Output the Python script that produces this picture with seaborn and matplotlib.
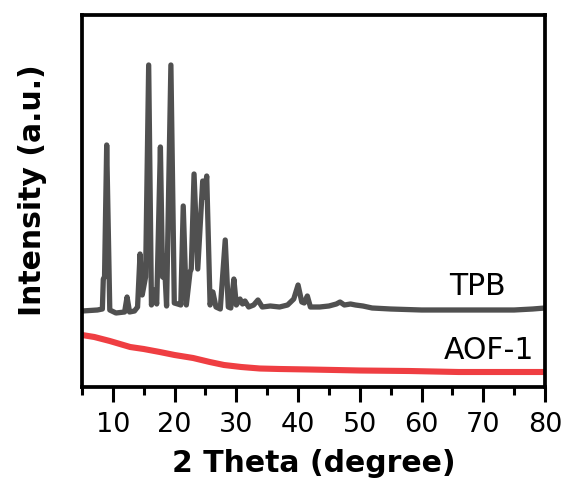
import matplotlib
matplotlib.use("Agg")
import matplotlib.pyplot as plt
import pandas as pd
import seaborn as sns
from matplotlib.ticker import MultipleLocator

# TPB powder pattern: 2θ (degree) and intensity (a.u., stacked above AOF-1)
tpb_theta = [5.0, 7.5, 8.3, 8.45, 8.65, 9.0, 9.5, 10.5, 11.9, 12.3, 12.7,
             13.5, 14.0, 14.4, 14.75, 15.3, 15.8, 16.25, 16.6, 16.75, 17.1,
             17.7, 18.05, 18.3, 18.7, 19.4, 19.95, 20.5, 21.0, 21.4, 21.9,
             22.5, 22.7, 23.15, 23.75, 24.55, 24.85, 25.2, 25.75, 26.2, 26.7,
             27.4, 28.2, 28.7, 29.1, 29.6, 30.0, 30.6, 31.0, 31.4, 32.0,
             32.8, 33.5, 34.2, 35.5, 37.0, 38.3, 39.3, 40.0, 40.6, 41.0,
             41.5, 42.0, 43.5, 45.0, 46.2, 46.8, 47.5, 48.5, 49.3, 50.5,
             52.0, 55.0, 60.0, 65.0, 70.0, 75.0, 78.0, 80.0]
tpb_intensity = [76, 77, 78, 108, 110, 242, 77, 74, 75, 90, 75,
                 76, 80, 133, 92, 110, 322, 82, 97, 95, 83,
                 240, 110, 131, 81, 322, 84, 83, 82, 181, 82,
                 115, 118, 213, 118, 206, 190, 211, 82, 95, 80,
                 78, 147, 80, 79, 108, 82, 88, 83, 86, 80,
                 82, 87, 80, 81, 80, 82, 88, 102, 85, 84,
                 91, 80, 80, 81, 83, 85, 82, 83, 82, 81,
                 79, 78, 77, 77, 77, 77, 78, 79]

# AOF-1 pattern: amorphous, decaying background only
aof_theta = [5.0, 7.0, 9.5, 12.8, 15.0, 17.6, 20.0, 23.0, 25.7, 28.0,
             30.8, 33.8, 37.0, 41.9, 46.0, 50.0, 58.0, 66.0, 73.0, 80.0]
aof_intensity = [52, 50, 46, 40, 38, 35, 32, 29, 25, 22,
                 20, 18.5, 18, 17.5, 17, 16.5, 16, 15, 15, 15]

series_names = ["TPB", "AOF-1"]
series_colors = ["#505050", "#EF3E42"]
x_ticks = [10, 20, 30, 40, 50, 60, 70, 80]

df = pd.concat([
    pd.DataFrame({"theta": tpb_theta, "intensity": tpb_intensity, "sample": series_names[0]}),
    pd.DataFrame({"theta": aof_theta, "intensity": aof_intensity, "sample": series_names[1]}),
], ignore_index=True)

sns.set_theme(style="ticks")
plt.rcParams["font.family"] = ["DejaVu Sans"]
plt.rcParams["text.color"] = "black"
plt.rcParams["axes.labelcolor"] = "black"
plt.rcParams["xtick.color"] = "black"
plt.rcParams["ytick.color"] = "black"

fig = plt.figure(figsize=(5.64, 4.81), dpi=100)
ax = fig.add_axes([82 / 564, 1 - 388 / 481, (545 - 82) / 564, (388 - 16) / 481])

for name, color, lw in zip(series_names, series_colors, [3.8, 4.4]):
    sub = df[df["sample"] == name]
    sns.lineplot(data=sub, x="theta", y="intensity", color=color, lw=lw,
                 sort=False, estimator=None, ax=ax, legend=False,
                 solid_joinstyle="round", solid_capstyle="butt")

ax.set_xlim(5, 80)
ax.set_ylim(0, 372)
ax.set_xticks(x_ticks)
ax.xaxis.set_minor_locator(MultipleLocator(5))
ax.set_yticks([])
for side in ["top", "right", "left", "bottom"]:
    ax.spines[side].set_visible(True)
    ax.spines[side].set_color("black")
    ax.spines[side].set_linewidth(2.7)

ax.tick_params(axis="x", which="major", direction="out", length=11, width=2.2,
               labelsize=19.5, pad=6, colors="black")
ax.tick_params(axis="x", which="minor", direction="out", length=6, width=2.2,
               colors="black")

ax.set_xlabel("2 Theta (degree)", fontsize=21.5, fontweight="bold", color="black")
ax.set_ylabel("Intensity (a.u.)", fontsize=21.5, fontweight="bold", color="black")
ax.xaxis.set_label_coords(0.5, -0.165)
ax.yaxis.set_label_coords(-0.076, 0.532)

ax.text(69.1, 93, "TPB", fontsize=21.5, ha="center", va="baseline", color="black")
ax.text(70.85, 29, "AOF-1", fontsize=21.5, ha="center", va="baseline", color="black")

fig.savefig("out.png", dpi=100, facecolor="white")
